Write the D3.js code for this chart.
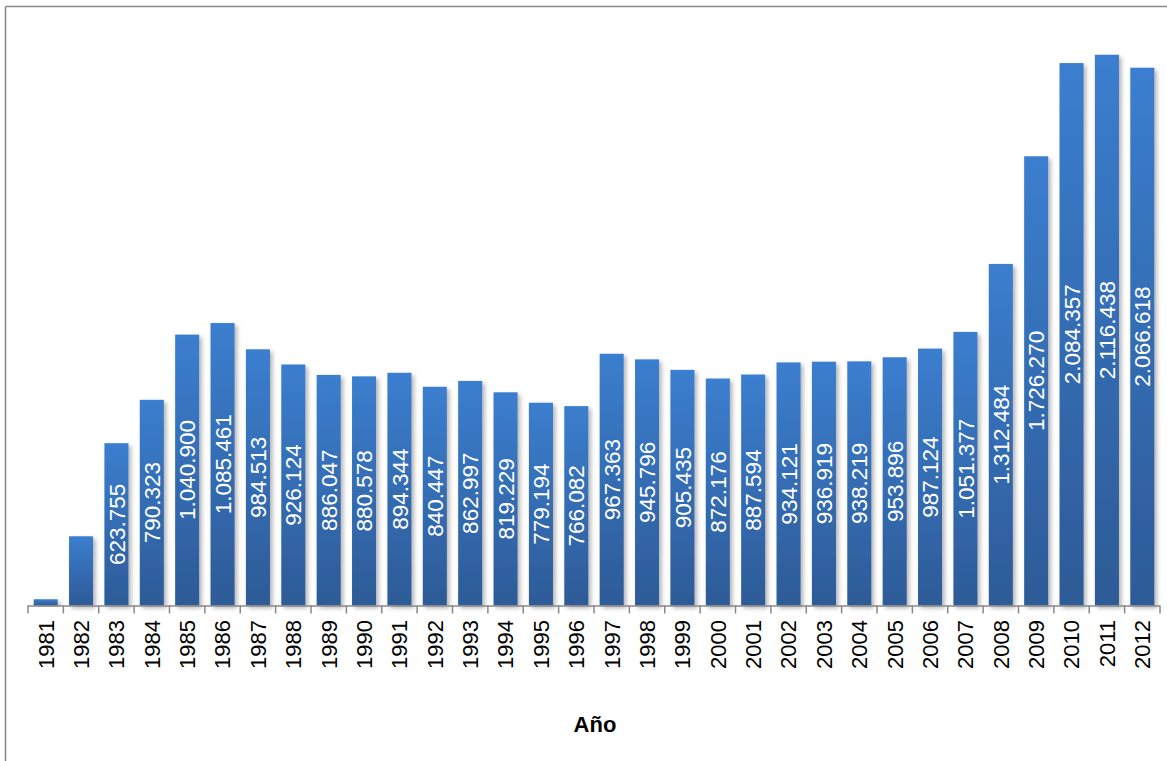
<!DOCTYPE html>
<html>
<head>
<meta charset="utf-8">
<script src="https://cdn.jsdelivr.net/npm/d3@7"></script>
<style>
  html, body { margin: 0; padding: 0; background: #fff; }
  svg { display: block; }
</style>
</head>
<body>
<div id="chart"></div>
<script>
const years = ["1981", "1982", "1983", "1984", "1985", "1986", "1987", "1988", "1989", "1990",
  "1991", "1992", "1993", "1994", "1995", "1996", "1997", "1998", "1999", "2000",
  "2001", "2002", "2003", "2004", "2005", "2006", "2007", "2008", "2009", "2010",
  "2011", "2012"];

// 1981 and 1982 have no label in the picture
const values = [24000, 266000, 623755, 790323, 1040900, 1085461, 984513, 926124, 886047, 880578,
  894344, 840447, 862997, 819229, 779194, 766082, 967363, 945796, 905435, 872176,
  887594, 934121, 936919, 938219, 953896, 987124, 1051377, 1312484, 1726270, 2084357,
  2116438, 2066618];

const labelledYears = years.slice(2);
const axisTitle = "Año";

const width = 1167;
const height = 761;

const data = years.map((y, i) => ({ year: y, value: values[i] }));

const fmt = d3.formatLocale({ decimal: ",", thousands: ".", grouping: [3], currency: ["", ""] }).format(",d");

const svg = d3
  .select("#chart")
  .append("svg")
  .attr("width", width)
  .attr("height", height);

const defs = svg.append("defs");

const grad = defs
  .append("linearGradient")
  .attr("id", "barGrad")
  .attr("x1", 0).attr("y1", 0)
  .attr("x2", 0).attr("y2", 1);
grad.append("stop").attr("offset", "0%").attr("stop-color", "#3b7ecf");
grad.append("stop").attr("offset", "100%").attr("stop-color", "#2d5b97");

const shadow = defs
  .append("filter")
  .attr("id", "shadow")
  .attr("x", "-30%").attr("y", "-10%")
  .attr("width", "160%").attr("height", "130%");
shadow
  .append("feDropShadow")
  .attr("dx", 2.5)
  .attr("dy", 2.5)
  .attr("stdDeviation", 2.2)
  .attr("flood-color", "#000")
  .attr("flood-opacity", 0.3);

// frame (only top and left edges are visible)
svg.append("line")
  .attr("x1", 5.5).attr("y1", 6.5).attr("x2", width).attr("y2", 6.5)
  .attr("stroke", "#8a8a8a").attr("stroke-width", 1.6);
svg.append("line")
  .attr("x1", 5.5).attr("y1", 6.5).attr("x2", 5.5).attr("y2", height)
  .attr("stroke", "#8a8a8a").attr("stroke-width", 1.6);

const x = d3.scaleBand().domain(years).range([28, 1160]).paddingInner(0.32).paddingOuter(0.16);
const y = d3.scaleLinear().domain([0, 2200000]).range([605.5, 33]);

svg
  .append("g")
  .selectAll("rect")
  .data(data)
  .join("rect")
  .attr("x", (d) => x(d.year))
  .attr("y", (d) => y(d.value))
  .attr("width", x.bandwidth())
  .attr("height", (d) => y(0) - y(d.value))
  .attr("fill", "url(#barGrad)")
  .attr("filter", "url(#shadow)");

// axis line and ticks at category boundaries
const step = x.step();
const axisG = svg.append("g");
axisG.append("line")
  .attr("x1", 28).attr("x2", 1160)
  .attr("y1", y(0) + 0.5).attr("y2", y(0) + 0.5)
  .attr("stroke", "#888").attr("stroke-width", 1.5);
axisG
  .selectAll("line.tick")
  .data(d3.range(years.length + 1))
  .join("line")
  .attr("class", "tick")
  .attr("x1", (i) => 28 + i * step)
  .attr("x2", (i) => 28 + i * step)
  .attr("y1", y(0))
  .attr("y2", y(0) + 8)
  .attr("stroke", "#888")
  .attr("stroke-width", 1.5);

axisG
  .selectAll("text")
  .data(years)
  .join("text")
  .attr("transform", (d) => `translate(${x(d) + x.bandwidth() / 2},620) rotate(-90)`)
  .attr("text-anchor", "end")
  .attr("dy", "0.36em")
  .attr("font-family", "Liberation Sans, Arial, sans-serif")
  .attr("font-size", 22)
  .attr("fill", "#000")
  .text((d) => d);

// value labels, centred inside the bars
svg
  .append("g")
  .selectAll("text")
  .data(data.filter((d) => labelledYears.includes(d.year)))
  .join("text")
  .attr("transform", (d) => `translate(${x(d.year) + x.bandwidth() / 2},${(y(d.value) + y(0)) / 2}) rotate(-90)`)
  .attr("text-anchor", "middle")
  .attr("dy", "0.36em")
  .attr("font-family", "Liberation Sans, Arial, sans-serif")
  .attr("font-size", 22.5)
  .attr("fill", "#fff")
  .text((d) => fmt(d.value));

svg
  .append("text")
  .attr("x", 595)
  .attr("y", 732)
  .attr("text-anchor", "middle")
  .attr("font-family", "Liberation Sans, Arial, sans-serif")
  .attr("font-weight", "bold")
  .attr("font-size", 22)
  .attr("fill", "#000")
  .text(axisTitle);
</script>
</body>
</html>
